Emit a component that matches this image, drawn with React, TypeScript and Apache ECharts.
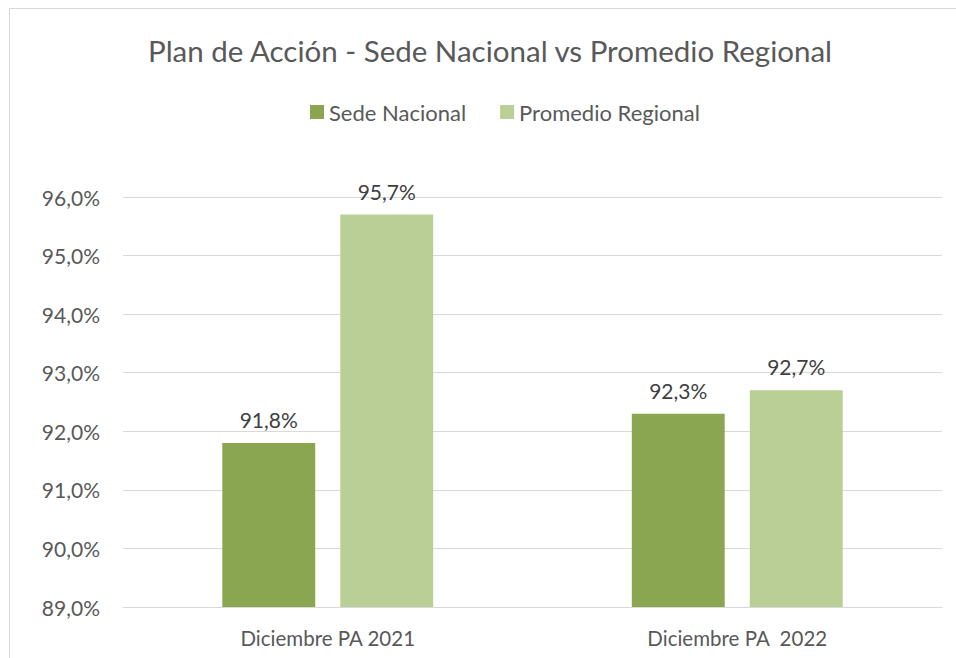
import React, { useEffect, useRef } from "react";
import * as echarts from "echarts";

const categories = ["Diciembre PA 2021", "Diciembre PA  2022"];
const sedeNacional = [91.8, 92.3];
const promedioRegional = [95.7, 92.7];
const seriesNames = ["Sede Nacional", "Promedio Regional"];
const titleText = "Plan de Acción - Sede Nacional vs Promedio Regional";

const FONT = "Lato, 'Open Sans', sans-serif";
const fmt = (v: number) => v.toFixed(1).replace(".", ",") + "%";

export default function App() {
  const ref = useRef<HTMLDivElement>(null);
  useEffect(() => {
    document.body.style.margin = "0";
    const chart = echarts.init(ref.current!, null, { renderer: "svg" });
    const label = {
      show: true,
      position: "top" as const,
      distance: 13,
      color: "#404040",
      fontSize: 21,
      fontFamily: FONT,
      formatter: (p: any) => fmt(p.value),
    };
    chart.setOption({
      animation: false,
      backgroundColor: "#ffffff",
      title: {
        text: titleText,
        left: 143,
        top: 30,
        textStyle: { color: "#595959", fontSize: 29.5, fontWeight: "normal", fontFamily: FONT },
      },
      legend: {
        data: seriesNames,
        top: 96,
        left: 305,
        itemWidth: 14,
        itemHeight: 14,
        itemGap: 34,
        icon: "rect",
        textStyle: { color: "#595959", fontSize: 22, fontFamily: FONT },
      },
      graphic: [
        {
          type: "rect",
          shape: { x: 9.5, y: 8.5, width: 960, height: 660 },
          style: { fill: "none", stroke: "#d9d9d9", lineWidth: 1 },
          silent: true,
        },
      ],
      grid: { left: 123, right: 14, top: 197, bottom: 51 },
      xAxis: {
        type: "category",
        data: categories,
        axisLine: { show: true, lineStyle: { color: "#d9d9d9", width: 1 } },
        axisTick: { show: false },
        axisLabel: { color: "#595959", fontSize: 20.5, fontFamily: FONT, margin: 20 },
      },
      yAxis: {
        type: "value",
        min: 89,
        max: 96,
        interval: 1,
        axisLine: { show: false },
        axisTick: { show: false },
        splitLine: { lineStyle: { color: "#d9d9d9", width: 1 } },
        axisLabel: {
          color: "#595959",
          fontSize: 21,
          fontFamily: FONT,
          margin: 23,
          formatter: (v: number) => fmt(v),
        },
      },
      series: [
        {
          name: seriesNames[0],
          type: "bar",
          data: sedeNacional,
          itemStyle: { color: "#8BA650" },
          barGap: "27%",
          barCategoryGap: "48.5%",
          label,
        },
        {
          name: seriesNames[1],
          type: "bar",
          data: promedioRegional,
          itemStyle: { color: "#B9CF96" },
          label,
        },
      ],
    });
    return () => chart.dispose();
  }, []);
  return <div ref={ref} style={{ width: 956, height: 658 }} />;
}
